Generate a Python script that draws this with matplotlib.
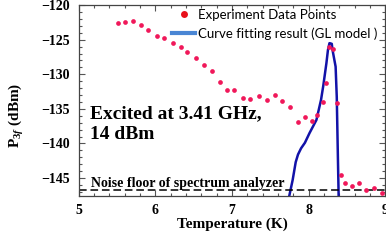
import matplotlib
matplotlib.use("Agg")
import matplotlib.pyplot as plt
from matplotlib.lines import Line2D
from matplotlib.ticker import MultipleLocator

plt.rcParams["mathtext.fontset"] = "custom"
plt.rcParams["mathtext.rm"] = "Liberation Serif:bold"
plt.rcParams["mathtext.it"] = "Liberation Serif:bold:italic"
plt.rcParams["mathtext.bf"] = "Liberation Serif:bold"

# experiment points (K, dBm)
temp_pts = [5.52, 5.61, 5.71, 5.81, 5.91, 6.02, 6.12, 6.23, 6.33, 6.42,
            6.53, 6.64, 6.74, 6.84, 6.94, 7.03, 7.14, 7.24, 7.35, 7.45,
            7.56, 7.65, 7.76, 7.86, 7.95, 8.04, 8.11, 8.18, 8.22, 8.27,
            8.32, 8.37, 8.42, 8.47, 8.56, 8.65, 8.75, 8.85, 8.95]
p3f_pts = [-122.6, -122.5, -122.3, -122.9, -123.6, -124.4, -124.8, -125.5,
           -126.1, -126.8, -127.7, -128.6, -129.5, -131.1, -132.3, -132.3,
           -133.5, -133.6, -133.2, -133.7, -133.0, -133.8, -134.7, -136.9,
           -136.2, -136.7, -135.9, -134.0, -131.3, -126.0, -126.4, -134.2,
           -144.5, -145.7, -146.2, -145.7, -146.8, -146.5, -147.1]

# GL model fit curve
temp_fit = [7.74, 7.79, 7.83, 7.86, 7.90, 7.95, 8.01, 8.10, 8.16, 8.19,
            8.23, 8.25, 8.27, 8.30, 8.31, 8.35, 8.365, 8.378, 8.39]
p3f_fit = [-147.9, -145.3, -142.7, -141.6, -140.7, -139.9, -138.5, -136.6,
           -133.7, -131.6, -128.4, -126.5, -125.5, -125.6, -126.5, -128.9,
           -133.3, -141.0, -147.9]

noise_floor = -146.8

fig = plt.figure(figsize=(3.86, 2.42), dpi=100)
ax = fig.add_axes([0.2034, 0.19, 0.7953, 0.789])

serif = "Liberation Serif"

ax.plot(temp_pts, p3f_pts, "o", color="#F0185A", markersize=3.4,
        markeredgewidth=0, zorder=3)
ax.plot(temp_fit, p3f_fit, color="#1212A8", linewidth=1.8, zorder=2)
ax.axhline(noise_floor, color="black", linewidth=1.1, dashes=(5, 2.5))

ax.set_xlim(5, 9)
ax.set_ylim(-147.6, -120)
ax.xaxis.set_major_locator(MultipleLocator(1))
ax.xaxis.set_minor_locator(MultipleLocator(0.2))
ax.yaxis.set_major_locator(MultipleLocator(5))
ax.yaxis.set_minor_locator(MultipleLocator(1))
ax.tick_params(which="both", direction="in", top=True, right=True,
               width=0.8, color="#555555")
ax.tick_params(which="major", length=4, pad=6)
ax.tick_params(which="minor", length=2.5)
for lab in ax.get_xticklabels() + ax.get_yticklabels():
    lab.set_fontfamily(serif)
    lab.set_fontweight("bold")
    lab.set_fontsize(10)
for s in ax.spines.values():
    s.set_color("#444444")
    s.set_linewidth(0.9)

ax.set_xlabel("Temperature (K)", fontfamily=serif, fontweight="bold",
              fontsize=11)
ax.xaxis.set_label_coords(0.5, -0.115)
ax.set_ylabel(r"P$_{3f}$ (dBm)", fontfamily=serif, fontweight="bold",
              fontsize=11)
ax.yaxis.set_label_coords(-0.17, 0.42)

ax.text(0.037, 0.475, "Excited at 3.41 GHz,\n14 dBm", transform=ax.transAxes,
        fontfamily=serif, fontweight="bold", fontsize=14, va="top",
        linespacing=1.3)
ax.text(0.04, 0.047, "Noise floor of spectrum analyzer",
        transform=ax.transAxes, fontfamily=serif, fontweight="bold",
        fontsize=10, va="baseline")

handles = [
    Line2D([], [], marker="o", linestyle="none", color="#E8101A",
           markersize=5, markeredgewidth=0),
    Line2D([], [], color="#4A86D4", linewidth=3),
]
ax.legend(handles, ["Experiment Data Points",
                    "Curve fitting result (GL model )"],
          loc="upper left", bbox_to_anchor=(0.305, 0.982), frameon=False,
          prop={"family": "Lato", "size": 9.5}, handlelength=1.75,
          handletextpad=0.2, labelspacing=0.5, borderaxespad=0,
          borderpad=0)

fig.savefig("out.png", dpi=100)
